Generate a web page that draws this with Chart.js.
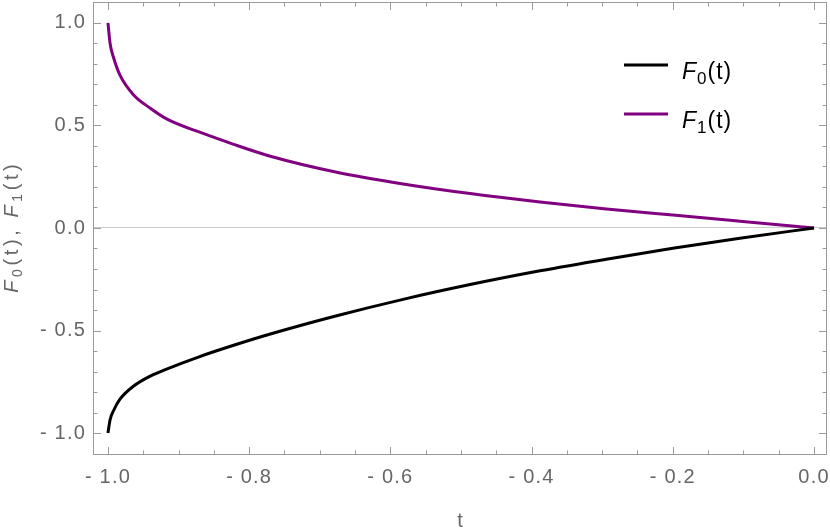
<!DOCTYPE html>
<html>
<head>
<meta charset="utf-8">
<script src="https://cdn.jsdelivr.net/npm/chart.js@4.4.1/dist/chart.umd.min.js"></script>
<style>
  html, body { margin: 0; padding: 0; background: #fff; }
  canvas { display: block; }
</style>
</head>
<body>
<canvas id="grafico" width="830" height="530"></canvas>
<script>
// Valores
const tValores = [-1, -0.997, -0.992, -0.983, -0.964, -0.94, -0.917, -0.87, -0.822, -0.77, -0.676, -0.582, -0.487, -0.388, -0.294, -0.2, -0.105, 0];
const f0Valores = [-1, -0.935, -0.89, -0.835, -0.772, -0.722, -0.688, -0.627, -0.572, -0.517, -0.428, -0.348, -0.276, -0.209, -0.152, -0.099, -0.05, 0];
const f1Valores = [1, 0.9, 0.83, 0.745, 0.65, 0.584, 0.532, 0.467, 0.408, 0.35, 0.272, 0.215, 0.168, 0.127, 0.093, 0.063, 0.033, 0];
const nomesSeries = ['F0(t)', 'F1(t)'];
const coresSeries = ['#000000', '#800080'];
const ticksX = [-1, -0.8, -0.6, -0.4, -0.2, 0];
const ticksY = [-1, -0.5, 0, 0.5, 1];
const tituloX = 't';
const tituloY = 'F0(t), F1(t)';

const familia = "'Liberation Sans', Arial, Helvetica, sans-serif";
const cinzaTexto = '#666666';
const cinzaMoldura = '#9a9a9a';

// Formato dos ticks no estilo "- 0.5"
function formatar(v) {
  return v < 0 ? '- ' + Math.abs(v).toFixed(1) : v.toFixed(1);
}

// Texto com F em itálico e índice subscrito
function partesRicas(texto) {
  const partes = [];
  for (let i = 0; i < texto.length; i++) {
    const c = texto[i];
    if (c === 'F') partes.push({ c, italico: true, sub: false });
    else if (/[0-9]/.test(c) && texto[i - 1] === 'F') partes.push({ c, italico: false, sub: true });
    else partes.push({ c, italico: false, sub: false });
  }
  return partes;
}

function fonteParte(p, tam) {
  return (p.italico ? 'italic ' : '') + (p.sub ? Math.round(tam * 0.72) : tam) + 'px ' + familia;
}

function desenharRico(ctx, texto, x, y, tam, cor, gap, centro) {
  const partes = partesRicas(texto);
  ctx.save();
  ctx.letterSpacing = '0px';
  ctx.fillStyle = cor;
  ctx.textBaseline = 'alphabetic';
  ctx.textAlign = 'left';
  let largura = 0;
  partes.forEach(p => {
    ctx.font = fonteParte(p, tam);
    largura += ctx.measureText(p.c).width + gap;
  });
  largura -= gap;
  let px = centro ? x - largura / 2 : x;
  partes.forEach(p => {
    ctx.font = fonteParte(p, tam);
    ctx.fillText(p.c, px, y + (p.sub ? tam * 0.22 : 0));
    px += ctx.measureText(p.c).width + gap;
  });
  ctx.restore();
}

// Moldura, marcas internas, títulos e legenda
const pluginMoldura = {
  id: 'moldura',
  beforeDraw(chart) {
    chart.ctx.letterSpacing = '1.2px';
  },
  afterDraw(chart) {
    const ctx = chart.ctx;
    const area = chart.chartArea;
    const sx = chart.scales.x;
    const sy = chart.scales.y;
    ctx.save();
    ctx.letterSpacing = '0px';
    ctx.strokeStyle = cinzaMoldura;
    ctx.lineWidth = 1;
    ctx.strokeRect(area.left + 0.5, area.top + 0.5, area.right - area.left - 1, area.bottom - area.top - 1);

    ctx.beginPath();
    for (let i = 0; i <= 20; i++) {
      const v = -1 + i * 0.05;
      const x = Math.round(sx.getPixelForValue(v)) + 0.5;
      const len = ticksX.some(m => Math.abs(m - v) < 1e-6) ? 8 : 4.5;
      ctx.moveTo(x, area.bottom);
      ctx.lineTo(x, area.bottom - len);
      ctx.moveTo(x, area.top);
      ctx.lineTo(x, area.top + len);
    }
    for (let i = -11; i <= 11; i++) {
      const v = i / 10;
      const y = Math.round(sy.getPixelForValue(v)) + 0.5;
      if (y < area.top || y > area.bottom) continue;
      const len = ticksY.some(m => Math.abs(m - v) < 1e-6) ? 8 : 4.5;
      ctx.moveTo(area.left, y);
      ctx.lineTo(area.left + len, y);
      ctx.moveTo(area.right, y);
      ctx.lineTo(area.right - len, y);
    }
    ctx.stroke();
    ctx.restore();

    // Títulos dos eixos
    ctx.save();
    ctx.letterSpacing = '0px';
    ctx.fillStyle = cinzaTexto;
    ctx.font = '20px ' + familia;
    ctx.textAlign = 'center';
    ctx.textBaseline = 'alphabetic';
    ctx.fillText(tituloX, (area.left + area.right) / 2, 527);
    ctx.translate(18, (area.top + area.bottom) / 2);
    ctx.rotate(-Math.PI / 2);
    desenharRico(ctx, tituloY, 0, 0, 20, cinzaTexto, 3.6, true);
    ctx.restore();

    // Legenda
    chart.data.datasets.forEach((ds, i) => {
      const y = 65 + i * 49;
      ctx.save();
      ctx.strokeStyle = ds.borderColor;
      ctx.lineWidth = 3;
      ctx.beginPath();
      ctx.moveTo(624, y);
      ctx.lineTo(668, y);
      ctx.stroke();
      ctx.restore();
      desenharRico(ctx, ds.label, 682, y + 14, 23, '#000000', 1.0, false);
    });
  }
};

const ctx = document.getElementById('grafico').getContext('2d');
new Chart(ctx, {
  type: 'line',
  data: {
    datasets: nomesSeries.map((nome, i) => ({
      label: nome,
      data: tValores.map((t, j) => ({ x: t, y: [f0Valores, f1Valores][i][j] })),
      borderColor: coresSeries[i],
      borderWidth: 3,
      pointRadius: 0,
      fill: false,
      cubicInterpolationMode: 'monotone'
    }))
  },
  options: {
    responsive: false,
    animation: false,
    layout: { padding: { top: 2, right: 3, left: 0, bottom: 0 } },
    scales: {
      x: {
        type: 'linear',
        min: -1.0212,
        max: 0.0184,
        afterBuildTicks: s => { s.ticks = ticksX.map(v => ({ value: v })); },
        afterFit: s => { s.height = 75; s.paddingLeft = 0; s.paddingRight = 0; },
        ticks: {
          callback: formatar,
          color: cinzaTexto,
          font: { size: 20, family: familia },
          padding: 10,
          maxRotation: 0,
          autoSkip: false
        },
        grid: { display: false, drawTicks: false },
        border: { display: false }
      },
      y: {
        type: 'linear',
        min: -1.107,
        max: 1.102,
        afterBuildTicks: s => { s.ticks = ticksY.map(v => ({ value: v })); },
        afterFit: s => { s.width = 93; s.paddingTop = 0; s.paddingBottom = 0; },
        ticks: {
          callback: formatar,
          color: cinzaTexto,
          font: { size: 20, family: familia },
          padding: 7
        },
        grid: {
          drawTicks: false,
          color: c => (c.tick && c.tick.value === 0 ? '#cccccc' : 'rgba(0,0,0,0)'),
          lineWidth: 1
        },
        border: { display: false }
      }
    },
    plugins: {
      legend: { display: false },
      tooltip: { enabled: false }
    }
  },
  plugins: [pluginMoldura]
});
</script>
</body>
</html>
